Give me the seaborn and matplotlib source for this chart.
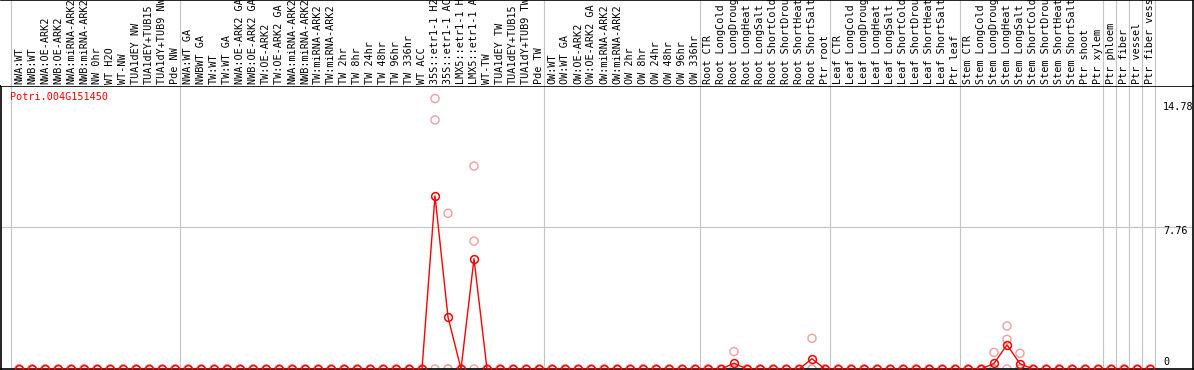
import matplotlib
matplotlib.use("Agg")
import matplotlib.pyplot as plt
import seaborn as sns
import pandas as pd

GENE = "Potri.004G151450"

# sample labels, already cut to 14 characters like the source page
samples = [
    "NWA:WT", "NWB:WT", "NWA:OE-ARK2", "NWB:OE-ARK2", "NWA:miRNA-ARK2",
    "NWB:miRNA-ARK2", "NW 0hr", "WT H2O", "WT-NW", "TUA1dEY NW",
    "TUA1dEY+TUB15", "TUA1dY+TUB9 NW", "Pde NW",
    "NWA:WT GA", "NWBWT GA", "TW:WT", "TW:WT GA", "NWA:OE-ARK2 GA",
    "NWB:OE-ARK2 GA", "TW:OE-ARK2", "TW:OE-ARK2 GA", "NWA:miRNA-ARK2",
    "NWB:miRNA-ARK2", "TW:miRNA-ARK2", "TW:miRNA-ARK2", "TW 2hr", "TW 8hr",
    "TW 24hr", "TW 48hr", "TW 96hr", "TW 336hr", "WT ACC", "35S::etr1-1 H2",
    "35S::etr1-1 AC", "LMX5::etr1-1 H", "LMX5::etr1-1 A", "WT-TW",
    "TUA1dEY TW", "TUA1dEY+TUB15", "TUA1dY+TUB9 TW", "Pde TW",
    "OW:WT", "OW:WT GA", "OW:OE-ARK2", "OW:OE-ARK2 GA", "OW:miRNA-ARK2",
    "OW:miRNA-ARK2", "OW 2hr", "OW 8hr", "OW 24hr", "OW 48hr", "OW 96hr",
    "OW 336hr",
    "Root CTR", "Root LongCold", "Root LongDroug", "Root LongHeat",
    "Root LongSalt", "Root ShortCold", "Root ShortDrou", "Root ShortHeat",
    "Root ShortSalt", "Ptr root",
    "Leaf CTR", "Leaf LongCold", "Leaf LongDroug", "Leaf LongHeat",
    "Leaf LongSalt", "Leaf ShortCold", "Leaf ShortDrou", "Leaf ShortHeat",
    "Leaf ShortSalt", "Ptr leaf",
    "Stem CTR", "Stem LongCold", "Stem LongDroug", "Stem LongHeat",
    "Stem LongSalt", "Stem ShortCold", "Stem ShortDrou", "Stem ShortHeat",
    "Stem ShortSalt", "Ptr shoot", "Ptr xylem",
    "Ptr phloem", "Ptr fiber", "Ptr vessel", "Ptr fiber vess",
]

# three replicates per sample, in the same order as samples
rep1 = [
    0, 0, 0, 0, 0, 0, 0, 0, 0, 0, 0, 0, 0,
    0, 0, 0, 0, 0, 0, 0, 0, 0, 0, 0, 0, 0, 0, 0, 0, 0, 0, 0,
    14.78, 8.51, 0, 11.09, 0, 0, 0, 0, 0,
    0, 0, 0, 0, 0, 0, 0, 0, 0, 0, 0, 0,
    0, 0, 0.95, 0, 0, 0, 0, 0, 1.68, 0,
    0, 0, 0, 0, 0, 0, 0, 0, 0, 0,
    0, 0, 0.91, 2.35, 0.86, 0, 0, 0, 0, 0, 0,
    0, 0, 0, 0,
]
rep2 = [
    0, 0, 0, 0, 0, 0, 0, 0, 0, 0, 0, 0, 0,
    0, 0, 0, 0, 0, 0, 0, 0, 0, 0, 0, 0, 0, 0, 0, 0, 0, 0, 0,
    13.61, 0, 0, 6.99, 0, 0, 0, 0, 0,
    0, 0, 0, 0, 0, 0, 0, 0, 0, 0, 0, 0,
    0, 0, 0, 0, 0, 0, 0, 0, 0, 0,
    0, 0, 0, 0, 0, 0, 0, 0, 0, 0,
    0, 0, 0, 1.62, 0, 0, 0, 0, 0, 0, 0,
    0, 0, 0, 0,
]
rep3 = [
    0, 0, 0, 0, 0, 0, 0, 0, 0, 0, 0, 0, 0,
    0, 0, 0, 0, 0, 0, 0, 0, 0, 0, 0, 0, 0, 0, 0, 0, 0, 0, 0,
    0, 0, 0, 0, 0, 0, 0, 0, 0,
    0, 0, 0, 0, 0, 0, 0, 0, 0, 0, 0, 0,
    0, 0, 0, 0, 0, 0, 0, 0, 0, 0,
    0, 0, 0, 0, 0, 0, 0, 0, 0, 0,
    0, 0, 0, 0, 0, 0, 0, 0, 0, 0, 0,
    0, 0, 0, 0,
]

# index of the first sample of each block (gray separators)
group_starts = [0, 13, 41, 53, 63, 73, 84, 85, 86, 87, 88]
y_ticks = [0, 7.76, 14.78]

# long-form table
rows = []
for i, name in enumerate(samples):
    for r, reps in enumerate([rep1, rep2, rep3]):
        rows.append({"pos": i, "sample": name, "rep": r, "value": reps[i]})
df = pd.DataFrame(rows)

sns.set_theme(style="white")
plt.rcParams["font.family"] = ["DejaVu Sans Mono"]

W, H = 1194, 370
fig = plt.figure(figsize=(W / 100, H / 100), dpi=100)

# pixel layout: columns at x = 19 + 13*i, zero at y = 369, 18.3 px per unit
header_px = 86
ax = fig.add_axes([1 / W, 1 / H, 1192 / W, (369 - header_px) / H])
ax_head = fig.add_axes([1 / W, (H - header_px) / H, 1192 / W, header_px / H], sharex=ax)

ax.set_xlim((1 - 19) / 13, (1193 - 19) / 13)
ax.set_ylim(0, (369 - header_px) / 18.3)
ax_head.set_ylim(0, 1)

gray = "#c4c4c4"
pink = "#eea0a0"
for a in (ax, ax_head):
    for g in group_starts:
        a.axvline(g - 0.6, color=gray, lw=0.8, zorder=0)
ax.axhline(y_ticks[1], color=gray, lw=0.8, zorder=0)

sns.scatterplot(data=df, x="pos", y="value", ax=ax, marker="o", s=34,
                facecolors="none", edgecolor=pink, linewidth=1.0,
                zorder=2, clip_on=True, legend=False)
sns.lineplot(data=df, x="pos", y="value", ax=ax, estimator="mean",
             errorbar=None, color="red", lw=1.0, marker="o", markersize=5.6,
             markerfacecolor="none", markeredgecolor="red",
             markeredgewidth=1.1, zorder=3, legend=False)

ax.set_xlabel("")
ax.set_ylabel("")
ax.set_xticks([])
ax.set_yticks([])
ax_head.set_yticks([])
ax_head.tick_params(labelbottom=False, bottom=False)
for s in ax.spines.values():
    s.set_color("black")
    s.set_linewidth(1.2)
ax_head.spines["left"].set_visible(False)
ax_head.spines["bottom"].set_visible(False)
for s in ("top", "right"):
    ax_head.spines[s].set_color("black")
    ax_head.spines[s].set_linewidth(1.2)

txt_size = 7.3
for i, name in enumerate(samples):
    ax_head.text(i, 2 / header_px, name, rotation=90, ha="center", va="bottom",
                 fontsize=txt_size, color="black",
                 transform=ax_head.get_xaxis_transform())

fig.text(10 / W, 1 - 97 / H, GENE, color="red", fontsize=txt_size,
         ha="left", va="center")

# value labels at the right edge
label_dy = {0: 7, 7.76: -4.5, 14.78: -8.5}
for v in y_ticks:
    ax.annotate(f"{v:g}", xy=((1163 - 19) / 13, v),
                xytext=(0, label_dy[v] * 0.72), textcoords="offset points",
                ha="left", va="center", fontsize=txt_size, color="black",
                annotation_clip=False)

fig.savefig("out.png", dpi=100)
